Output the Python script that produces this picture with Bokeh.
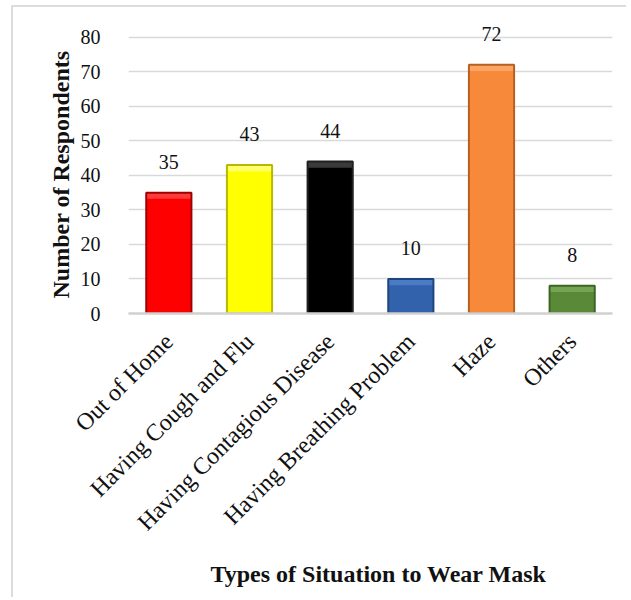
import math
from bokeh.plotting import figure
from bokeh.models import ColumnDataSource, LabelSet, Title, FactorRange, Range1d, FixedTicker
from bokeh.core.properties import value
from bokeh.embed import file_html
from bokeh.resources import INLINE

categories = ["Out of Home", "Having Cough and Flu", "Having Contagious Disease",
              "Having Breathing Problem", "Haze", "Others"]
counts = [35, 43, 44, 10, 72, 8]
bar_colors = ["#FF0000", "#FFFF00", "#000000", "#3262AB", "#F78A3A", "#5A8A38"]
edge_colors = ["#A00000", "#B8B800", "#202020", "#1F4580", "#B8601E", "#3C6424"]
bevel_colors = ["#FF3A3A", "#FFFF70", "#3A3A3A", "#4A7CC4", "#FAA466", "#74A652"]
y_ticks = [0, 10, 20, 30, 40, 50, 60, 70, 80]

FONT = "Liberation Serif"

src = ColumnDataSource(dict(cat=categories, val=counts, fill=bar_colors,
                            edge=edge_colors, bevel=bevel_colors,
                            bevel_bottom=[v - 1.8 for v in counts],
                            lab=[str(v) for v in counts]))

p = figure(x_range=FactorRange(*categories, range_padding=0),
           y_range=Range1d(0, 86),
           width=615, height=592, output_backend="svg", toolbar_location=None,
           min_border_left=115, min_border_right=16, min_border_top=9,
           min_border_bottom=286)
p.margin = (5, 0, 0, 11)
p.outline_line_color = None
p.styles = {"border-top": "2px solid #dcdcdc", "border-left": "2px solid #dcdcdc"}

p.vbar(x="cat", top="val", width=0.56, source=src, fill_color="fill",
       line_color=None)
p.vbar(x="cat", top="val", bottom="bevel_bottom", width=0.56, source=src,
       fill_color="bevel", line_color=None)
p.vbar(x="cat", top="val", width=0.56, source=src, fill_color=None,
       line_color="edge", line_width=2)

labels = LabelSet(x="cat", y="val", text="lab", source=src, y_offset=31,
                  text_align="center", text_baseline="middle",
                  text_font=value(FONT), text_font_size="20px", text_color="#111111")
p.add_layout(labels)

p.xgrid.grid_line_color = None
p.ygrid.grid_line_color = "#d9d9d9"
p.ygrid.grid_line_width = 1.5
p.yaxis.ticker = FixedTicker(ticks=y_ticks)

p.yaxis.axis_line_color = None
p.yaxis.major_tick_line_color = None
p.yaxis.minor_tick_line_color = None
p.yaxis.major_tick_out = 0
p.yaxis.major_label_standoff = 28
p.yaxis.major_label_text_font = FONT
p.yaxis.major_label_text_font_size = "20px"
p.yaxis.major_label_text_color = "#111111"

p.add_layout(Title(text="Number of Respondents", align="left", offset=15,
                   text_font=FONT, text_font_size="24px", text_font_style="bold",
                   text_color="#111111", standoff=8), "left")

p.xaxis.axis_line_color = "#d0d0d0"
p.xaxis.axis_line_width = 2.5
p.xaxis.major_tick_line_color = None
p.xaxis.major_tick_out = 0
p.xaxis.major_label_orientation = math.pi / 4
p.xaxis.major_label_standoff = 24
p.xaxis.major_label_text_font = FONT
p.xaxis.major_label_text_font_size = "24px"
p.xaxis.major_label_text_color = "#111111"

p.add_layout(Title(text="Types of Situation to Wear Mask", align="left", offset=82,
                   text_font=FONT, text_font_size="24px", text_font_style="bold",
                   text_color="#111111", standoff=22), "below")

open("out.html", "w").write(file_html(p, INLINE))
